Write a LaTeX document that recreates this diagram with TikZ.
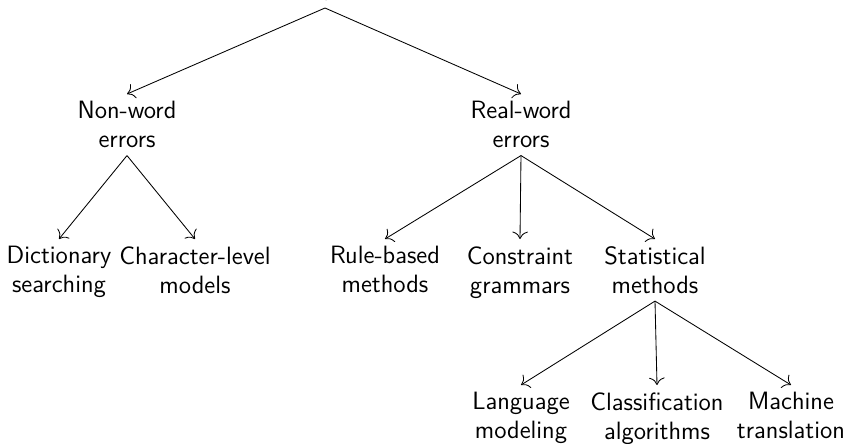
\documentclass[tikz,border=0pt]{standalone}
\usetikzlibrary{arrows.meta}

\begin{document}
\begin{tikzpicture}[x=0.01654cm, y=-0.01654cm]
    \useasboundingbox (0, 0) rectangle (847, 444);

    \begin{scope}[every node/.style={align=center, font=\sffamily\fontsize{11.8}{13.6}\selectfont}]
        \node[anchor=south] (R) at (325, 8) {Spelling errors};

        \node[anchor=north] (E_1) at (127, 94) {Non-word\\errors};
        \node[anchor=north] (E_2) at (521, 94) {Real-word\\errors};

        \node[anchor=north] (M_1) at (59, 239) {Dictionary\\searching};
        \node[anchor=north] (M_2) at (195, 239) {Character-level\\models};
        \node[anchor=north] (M_3) at (385, 239) {Rule-based\\methods};
        \node[anchor=north] (M_4) at (520, 239) {Constraint\\grammars};
        \node[anchor=north] (M_5) at (655, 239) {Statistical\\methods};

        \node[anchor=north] (S_1) at (521, 385) {Language\\modeling};
        \node[anchor=north] (S_2) at (657, 385) {Classification\\algorithms};
        \node[anchor=north] (S_3) at (791, 385) {Machine\\translation};
    \end{scope}

    \begin{scope}[every edge/.style={draw=black}]
        \path[-{To[scale=1.4]}] (R.south) edge (E_1.north);
        \path[-{To[scale=1.4]}] (R.south) edge (E_2.north);
        \path[-{To[scale=1.4]}] (E_1.south) edge (M_1.north);
        \path[-{To[scale=1.4]}] (E_1.south) edge (M_2.north);
        \path[-{To[scale=1.4]}] (E_2.south) edge (M_3.north);
        \path[-{To[scale=1.4]}] (E_2.south) edge (M_4.north);
        \path[-{To[scale=1.4]}] (E_2.south) edge (M_5.north);
        \path[-{To[scale=1.4]}] (M_5.south) edge (S_1.north);
        \path[-{To[scale=1.4]}] (M_5.south) edge (S_2.north);
        \path[-{To[scale=1.4]}] (M_5.south) edge (S_3.north);
    \end{scope}
\end{tikzpicture}
\end{document}
